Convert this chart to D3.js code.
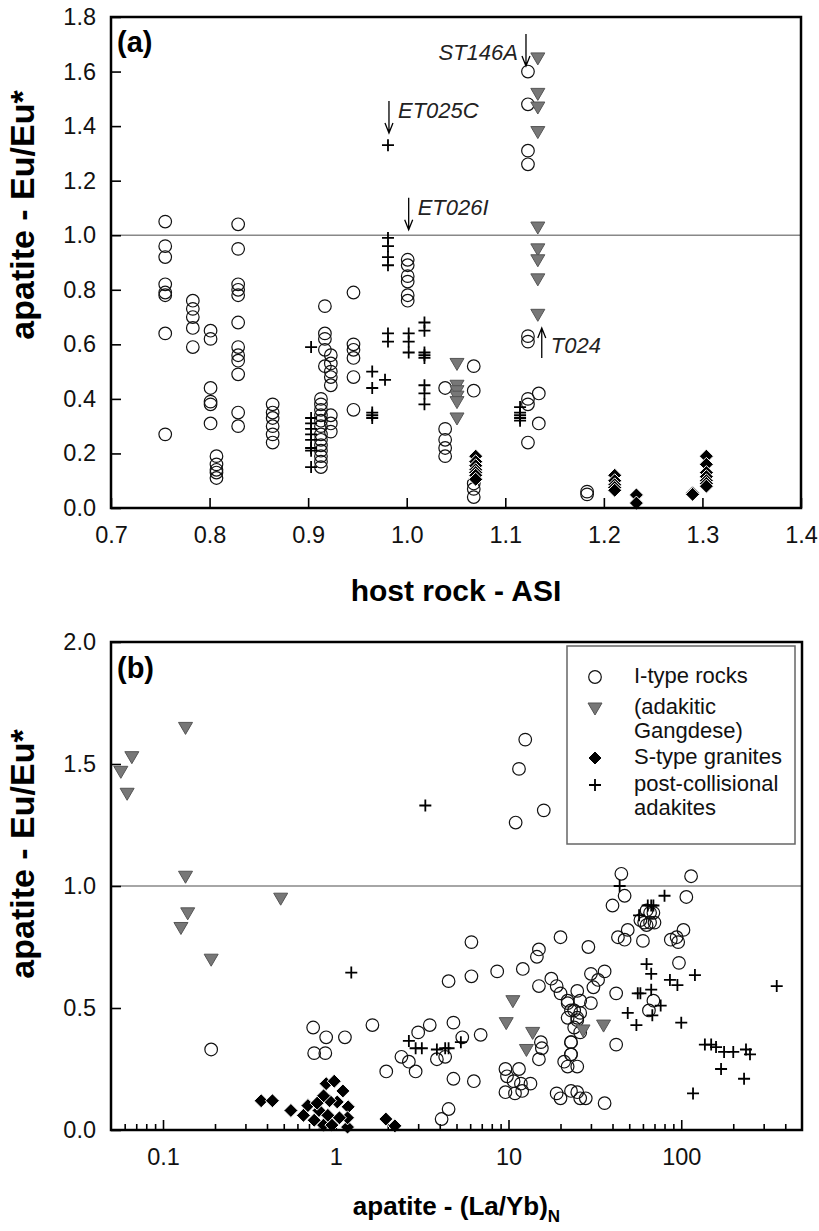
<!DOCTYPE html>
<html lang="en">
<head>
<meta charset="UTF-8">
<title>Apatite Eu/Eu*</title>
<script src="https://cdnjs.cloudflare.com/ajax/libs/d3/7.8.5/d3.min.js"></script>
<style>
    html, body {
        margin: 0;
        background: white;
    }
    text {
        font-family: "Liberation Sans", Arial, sans-serif;
    }
</style>
</head>
<body>
<div id="chart"></div>
<script>
// ---- panel (a): host rock ASI vs apatite Eu/Eu* ----
var aCircles = [
    [0.755, 1.05], [0.755, 0.96], [0.755, 0.92], [0.755, 0.82], [0.755, 0.79], [0.755, 0.78], [0.755, 0.64], [0.755, 0.27],
    [0.783, 0.76], [0.783, 0.73], [0.783, 0.70], [0.783, 0.66], [0.783, 0.59],
    [0.801, 0.65], [0.801, 0.62], [0.801, 0.44], [0.801, 0.39], [0.801, 0.38], [0.801, 0.31],
    [0.807, 0.19], [0.807, 0.16], [0.807, 0.14], [0.807, 0.13], [0.807, 0.11],
    [0.829, 1.04], [0.829, 0.95], [0.829, 0.82], [0.829, 0.80], [0.829, 0.78], [0.829, 0.68], [0.829, 0.59],
    [0.829, 0.56], [0.829, 0.54], [0.829, 0.49], [0.829, 0.35], [0.829, 0.30],
    [0.864, 0.38], [0.864, 0.35], [0.864, 0.33], [0.864, 0.30], [0.864, 0.27], [0.864, 0.24],
    [0.913, 0.40], [0.913, 0.38], [0.913, 0.36], [0.913, 0.34], [0.913, 0.32], [0.913, 0.30], [0.913, 0.27],
    [0.913, 0.25], [0.913, 0.23], [0.913, 0.21], [0.913, 0.19], [0.913, 0.17], [0.913, 0.15],
    [0.917, 0.74], [0.917, 0.64], [0.917, 0.62], [0.917, 0.58], [0.917, 0.52],
    [0.923, 0.56], [0.923, 0.53], [0.923, 0.50], [0.923, 0.48], [0.923, 0.45], [0.923, 0.34], [0.923, 0.31], [0.923, 0.28],
    [0.946, 0.79], [0.946, 0.60], [0.946, 0.58], [0.946, 0.55], [0.946, 0.48], [0.946, 0.36],
    [1.001, 0.91], [1.001, 0.89], [1.001, 0.85], [1.001, 0.83], [1.001, 0.78], [1.001, 0.76],
    [1.039, 0.44], [1.039, 0.29], [1.039, 0.25], [1.039, 0.22], [1.039, 0.19],
    [1.068, 0.52], [1.068, 0.43], [1.068, 0.09], [1.068, 0.07], [1.068, 0.04],
    [1.123, 1.60], [1.123, 1.48], [1.123, 1.31], [1.123, 1.26], [1.123, 0.63], [1.123, 0.61],
    [1.123, 0.40], [1.123, 0.38], [1.123, 0.24],
    [1.134, 0.42], [1.134, 0.31],
    [1.183, 0.06], [1.183, 0.05]
];
var aTriangles = [
    [1.051, 0.53], [1.051, 0.45], [1.051, 0.43], [1.051, 0.41], [1.051, 0.39], [1.051, 0.33],
    [1.133, 1.65], [1.133, 1.52], [1.133, 1.47], [1.133, 1.38], [1.133, 1.03], [1.133, 0.95],
    [1.133, 0.91], [1.133, 0.84], [1.133, 0.71]
];
var aDiamonds = [
    [1.070, 0.19], [1.070, 0.17], [1.070, 0.155], [1.070, 0.14], [1.070, 0.13], [1.070, 0.12], [1.070, 0.105],
    [1.211, 0.12], [1.211, 0.10], [1.211, 0.085], [1.211, 0.075], [1.211, 0.065],
    [1.233, 0.048], [1.233, 0.018],
    [1.290, 0.055], [1.290, 0.05],
    [1.304, 0.19], [1.304, 0.16], [1.304, 0.13], [1.304, 0.115], [1.304, 0.10], [1.304, 0.09], [1.304, 0.08]
];
var aCrosses = [
    [0.903, 0.59], [0.903, 0.33], [0.903, 0.31], [0.903, 0.29], [0.903, 0.27], [0.903, 0.25], [0.903, 0.22], [0.903, 0.21], [0.903, 0.15],
    [0.965, 0.50], [0.965, 0.44], [0.965, 0.35], [0.965, 0.34], [0.965, 0.33],
    [0.978, 0.47],
    [0.981, 1.33], [0.981, 0.99], [0.981, 0.96], [0.981, 0.92], [0.981, 0.89], [0.981, 0.64], [0.981, 0.61],
    [1.002, 0.64], [1.002, 0.61], [1.002, 0.57],
    [1.018, 0.68], [1.018, 0.65], [1.018, 0.57], [1.018, 0.56], [1.018, 0.55], [1.018, 0.45], [1.018, 0.42], [1.018, 0.38],
    [1.115, 0.37], [1.115, 0.35], [1.115, 0.34], [1.115, 0.33], [1.115, 0.32]
];
// sample labels: [name, ASI of arrow, Eu/Eu* of arrow tip, arrow direction, text side]
var aNotes = [
    ['ST146A', 1.121, 1.62, 'down', 'left'],
    ['ET025C', 0.982, 1.375, 'down', 'right'],
    ['ET026I', 1.002, 1.02, 'down', 'right'],
    ['T024', 1.137, 0.66, 'up', 'right']
];
var aXTicks = [0.7, 0.8, 0.9, 1.0, 1.1, 1.2, 1.3, 1.4];
var aYTicks = [0.0, 0.2, 0.4, 0.6, 0.8, 1.0, 1.2, 1.4, 1.6, 1.8];

// ---- panel (b): apatite (La/Yb)N vs apatite Eu/Eu* ----
var bCircles = [
    [0.19, 0.33], [0.74, 0.42], [0.88, 0.38], [1.13, 0.38], [0.75, 0.315], [0.87, 0.315], [1.63, 0.43],
    [1.96, 0.24], [2.4, 0.30], [2.65, 0.28], [2.9, 0.24], [3.0, 0.40], [3.5, 0.43], [3.85, 0.29], [4.3, 0.30],
    [4.5, 0.61], [4.8, 0.44], [4.8, 0.21], [5.4, 0.38], [6.1, 0.77], [6.1, 0.63], [6.3, 0.20], [6.9, 0.39],
    [4.5, 0.086], [4.1, 0.045], [8.6, 0.65], [9.6, 0.25], [9.8, 0.22], [9.6, 0.155], [10.7, 0.20], [10.9, 0.15],
    [11.5, 0.25], [11.8, 0.19], [12, 0.16], [12.1, 0.66], [13.4, 0.19], [14.6, 0.71], [15, 0.74], [15, 0.59],
    [15, 0.29], [15.4, 0.36], [15.6, 0.335], [17.7, 0.62], [19, 0.59], [19, 0.15], [20, 0.13], [20, 0.56],
    [20, 0.79], [22, 0.52], [23, 0.49], [25, 0.46], [22, 0.26], [23, 0.31], [23, 0.36], [24, 0.42],
    [11.5, 1.48], [12.5, 1.60], [16, 1.31], [11, 1.26],
    [45, 1.05], [114, 1.04], [47, 0.96], [40, 0.92], [107, 0.955], [63, 0.90], [66, 0.89], [69, 0.89],
    [61, 0.85], [63, 0.84], [66, 0.85], [70, 0.85], [58, 0.86], [49, 0.82], [43, 0.79], [47, 0.78],
    [60, 0.775], [87, 0.78], [94, 0.79], [103, 0.82], [96, 0.77], [29, 0.75], [97, 0.685], [30, 0.64],
    [33, 0.615], [36, 0.65], [31, 0.585], [42, 0.56], [25, 0.57], [22, 0.53], [26, 0.53], [30, 0.52],
    [24, 0.49], [26, 0.48], [22, 0.46], [25, 0.45], [26, 0.40], [23, 0.36], [23, 0.31], [21, 0.28],
    [25, 0.26], [69, 0.53], [65, 0.49], [42, 0.35], [23, 0.16], [25, 0.155], [26, 0.13], [36, 0.11], [28, 0.13]
];
var bTriangles = [
    [0.057, 1.47], [0.066, 1.53], [0.062, 1.38], [0.135, 1.65], [0.135, 1.04], [0.48, 0.95], [0.139, 0.89],
    [0.127, 0.83], [0.19, 0.70], [10.6, 0.53], [9.7, 0.44], [13.8, 0.40], [12.7, 0.33], [27, 0.41], [35.5, 0.43]
];
var bDiamonds = [
    [0.37, 0.12], [0.43, 0.12], [1.95, 0.045], [2.2, 0.017],
    [0.55, 0.08], [0.65, 0.06], [0.69, 0.10], [0.80, 0.08], [0.85, 0.02], [0.88, 0.19], [0.98, 0.20],
    [1.02, 0.115], [0.95, 0.02], [1.1, 0.16], [1.18, 0.095], [1.17, 0.012], [1.17, 0.05], [0.75, 0.04],
    [0.9, 0.06], [0.92, 0.12], [0.85, 0.14], [1.05, 0.05], [0.78, 0.11]
];
var bCrosses = [
    [3.3, 1.33], [1.23, 0.645],
    [2.65, 0.365], [2.9, 0.335], [3.15, 0.335], [3.85, 0.33], [4.3, 0.335], [4.5, 0.335], [5.3, 0.36],
    [44, 1.0], [80, 0.96], [64, 0.92], [67, 0.92], [69, 0.92], [57, 0.88], [63, 0.68], [67, 0.64],
    [86, 0.615], [95, 0.594], [120, 0.635], [357, 0.59], [56, 0.56], [58, 0.56], [67, 0.575], [76, 0.51],
    [49, 0.48], [55, 0.43], [68, 0.47], [100, 0.44],
    [137, 0.35], [149, 0.35], [159, 0.34], [177, 0.32], [200, 0.32], [237, 0.33], [250, 0.31],
    [170, 0.25], [231, 0.21], [117, 0.15]
];
var bXMajor = [0.1, 1, 10, 100];
var bXMinor = [0.06, 0.07, 0.08, 0.09, 0.2, 0.3, 0.4, 0.5, 0.6, 0.7, 0.8, 0.9,
    2, 3, 4, 5, 6, 7, 8, 9, 20, 30, 40, 50, 60, 70, 80, 90, 200, 300, 400];
var bYTicks = [0.0, 0.5, 1.0, 1.5, 2.0];
var legendRows = [
    ['circle', ['I-type rocks']],
    ['triangle', ['(adakitic', 'Gangdese)']],
    ['diamond', ['S-type granites']],
    ['cross', ['post-collisional', 'adakites']]
];

var width = 819;
var height = 1231;

var svg = d3.select('#chart')
    .append('svg')
        .attr('width', width)
        .attr('height', height);

var panelA = {left: 111, right: 801, top: 17, bottom: 508};
var panelB = {left: 111, right: 802, top: 642, bottom: 1130};

var xA = d3.scaleLinear().domain([0.7, 1.4]).range([panelA.left, panelA.right]);
var yA = d3.scaleLinear().domain([0, 1.8]).range([panelA.bottom, panelA.top]);
var xB = d3.scaleLog().domain([0.05, 500]).range([panelB.left, panelB.right]);
var yB = d3.scaleLinear().domain([0, 2]).range([panelB.bottom, panelB.top]);

// marker paths
var triPath = 'M-7,-5L7,-5L0,7Z';
var diaPath = 'M0,-7L7,0L0,7L-7,0Z';
var crossPath = 'M-6,0L6,0M0,-6L0,6';

function drawMarks(g, data, x, y, kind) {
    var sel = g.selectAll('.m-' + kind)
        .data(data)
        .enter();
    if (kind === 'circle') {
        sel.append('circle')
            .attr('class', 'm-circle')
            .attr('cx', function(d){ return x(d[0]); })
            .attr('cy', function(d){ return y(d[1]); })
            .attr('r', 6.3)
            .attr('fill', 'none')
            .attr('stroke', '#111')
            .attr('stroke-width', 1.2);
    } else {
        sel.append('path')
            .attr('class', 'm-' + kind)
            .attr('transform', function(d){ return 'translate(' + x(d[0]) + ',' + y(d[1]) + ')'; })
            .attr('d', kind === 'triangle' ? triPath : kind === 'diamond' ? diaPath : crossPath)
            .attr('fill', kind === 'triangle' ? '#777' : kind === 'diamond' ? '#000' : 'none')
            .attr('stroke', kind === 'triangle' ? '#555' : kind === 'diamond' ? '#fff' : '#000')
            .attr('stroke-width', kind === 'cross' ? 1.8 : 1);
    }
}

function frame(p) {
    svg.append('rect')
        .attr('x', p.left)
        .attr('y', p.top)
        .attr('width', p.right - p.left)
        .attr('height', p.bottom - p.top)
        .attr('fill', 'none')
        .attr('stroke', '#000')
        .attr('stroke-width', 2.5);
}

// ===== panel (a) =====
var gA = svg.append('g');

gA.append('line')
    .attr('x1', panelA.left).attr('x2', panelA.right)
    .attr('y1', yA(1)).attr('y2', yA(1))
    .attr('stroke', '#888')
    .attr('stroke-width', 1.6);

var xAxisA = d3.axisBottom(xA)
    .tickValues(aXTicks)
    .tickSizeInner(-10)
    .tickSizeOuter(0)
    .tickPadding(18)
    .tickFormat(d3.format('.1f'));

var yAxisA = d3.axisLeft(yA)
    .tickValues(aYTicks)
    .tickSizeInner(-10)
    .tickSizeOuter(0)
    .tickPadding(15)
    .tickFormat(d3.format('.1f'));

gA.append('g')
    .attr('class', 'axis')
    .attr('transform', 'translate(0,' + panelA.bottom + ')')
    .call(xAxisA);

gA.append('g')
    .attr('class', 'axis')
    .attr('transform', 'translate(' + panelA.left + ',0)')
    .call(yAxisA);

drawMarks(gA, aCircles, xA, yA, 'circle');
drawMarks(gA, aCrosses, xA, yA, 'cross');
drawMarks(gA, aTriangles, xA, yA, 'triangle');
drawMarks(gA, aDiamonds, xA, yA, 'diamond');

// sample annotations with arrows
aNotes.forEach(function(n){
    var ax = xA(n[1]);
    var tip = yA(n[2]);
    var dir = n[3] === 'down' ? -1 : 1;     // tail offset direction
    var len = n[3] === 'down' ? 32 : 30;
    var tail = tip + dir * len;
    gA.append('path')
        .attr('d', 'M' + ax + ',' + tail + 'L' + ax + ',' + tip +
            'M' + (ax - 4) + ',' + (tip + dir * 10) + 'L' + ax + ',' + tip + 'L' + (ax + 4) + ',' + (tip + dir * 10))
        .attr('fill', 'none')
        .attr('stroke', '#000')
        .attr('stroke-width', 1.3);
    var ty = n[3] === 'down' ? (tail + tip) / 2 + 1 : (tail + tip) / 2 + 10;
    gA.append('text')
        .attr('x', n[4] === 'left' ? ax - 8 : ax + 9)
        .attr('y', n[3] === 'down' && n[4] === 'left' ? tip - 6 : ty)
        .attr('text-anchor', n[4] === 'left' ? 'end' : 'start')
        .attr('font-style', 'italic')
        .attr('font-size', 22)
        .attr('fill', '#222')
        .text(n[0]);
});

frame(panelA);

gA.append('text')
    .attr('x', panelA.left + 6)
    .attr('y', panelA.top + 35)
    .attr('font-size', 29)
    .attr('font-weight', 'bold')
    .text('(a)');

svg.append('text')
    .attr('transform', 'translate(34,215) rotate(-90)')
    .attr('text-anchor', 'middle')
    .attr('font-size', 34)
    .attr('font-weight', 'bold')
    .text('apatite - Eu/Eu*');

svg.append('text')
    .attr('x', (panelA.left + panelA.right) / 2)
    .attr('y', 601)
    .attr('text-anchor', 'middle')
    .attr('font-size', 30)
    .attr('font-weight', 'bold')
    .text('host rock - ASI');

// ===== panel (b) =====
var gB = svg.append('g');

gB.append('line')
    .attr('x1', panelB.left).attr('x2', panelB.right)
    .attr('y1', yB(1)).attr('y2', yB(1))
    .attr('stroke', '#888')
    .attr('stroke-width', 1.6);

var xAxisB = d3.axisBottom(xB)
    .tickValues(bXMajor)
    .tickSizeInner(-10)
    .tickSizeOuter(0)
    .tickPadding(18)
    .tickFormat(d3.format('~g'));

var xAxisBMinor = d3.axisBottom(xB)
    .tickValues(bXMinor)
    .tickSizeInner(-6)
    .tickSizeOuter(0)
    .tickFormat('');

var yAxisB = d3.axisLeft(yB)
    .tickValues(bYTicks)
    .tickSizeInner(-10)
    .tickSizeOuter(0)
    .tickPadding(15)
    .tickFormat(d3.format('.1f'));

gB.append('g')
    .attr('class', 'axis')
    .attr('transform', 'translate(0,' + panelB.bottom + ')')
    .call(xAxisB);

gB.append('g')
    .attr('class', 'axis')
    .attr('transform', 'translate(0,' + panelB.bottom + ')')
    .call(xAxisBMinor);

gB.append('g')
    .attr('class', 'axis')
    .attr('transform', 'translate(' + panelB.left + ',0)')
    .call(yAxisB);

drawMarks(gB, bCircles, xB, yB, 'circle');
drawMarks(gB, bCrosses, xB, yB, 'cross');
drawMarks(gB, bTriangles, xB, yB, 'triangle');
drawMarks(gB, bDiamonds, xB, yB, 'diamond');

// legend
var lg = gB.append('g').attr('transform', 'translate(567,646)');
lg.append('rect')
    .attr('width', 228)
    .attr('height', 198)
    .attr('fill', 'white')
    .attr('stroke', '#666')
    .attr('stroke-width', 1.5);

var rowY = [31, 62, 112, 139];
legendRows.forEach(function(r, i){
    var cy = rowY[i];
    var sym = r[0];
    if (sym === 'circle') {
        lg.append('circle').attr('cx', 28).attr('cy', cy).attr('r', 6.3)
            .attr('fill', 'none').attr('stroke', '#111').attr('stroke-width', 1.2);
    } else {
        lg.append('path')
            .attr('transform', 'translate(28,' + cy + ')')
            .attr('d', sym === 'triangle' ? triPath : sym === 'diamond' ? diaPath : crossPath)
            .attr('fill', sym === 'triangle' ? '#777' : sym === 'diamond' ? '#000' : 'none')
            .attr('stroke', sym === 'triangle' ? '#555' : sym === 'diamond' ? '#fff' : '#000')
            .attr('stroke-width', sym === 'cross' ? 1.8 : 1);
    }
    r[1].forEach(function(line, j){
        lg.append('text')
            .attr('x', 67)
            .attr('y', cy + 6 + j * 24)
            .attr('font-size', 22)
            .attr('fill', '#111')
            .text(line);
    });
});

frame(panelB);

gB.append('text')
    .attr('x', panelB.left + 6)
    .attr('y', panelB.top + 36)
    .attr('font-size', 29)
    .attr('font-weight', 'bold')
    .text('(b)');

svg.append('text')
    .attr('transform', 'translate(34,854) rotate(-90)')
    .attr('text-anchor', 'middle')
    .attr('font-size', 34)
    .attr('font-weight', 'bold')
    .text('apatite - Eu/Eu*');

var bTitle = svg.append('text')
    .attr('x', (panelB.left + panelB.right) / 2)
    .attr('y', 1215)
    .attr('text-anchor', 'middle')
    .attr('font-size', 26)
    .attr('font-weight', 'bold');
bTitle.append('tspan').text('apatite - (La/Yb)');
bTitle.append('tspan').attr('font-size', 17).attr('dy', 7).text('N');

// axis styling
svg.selectAll('.axis path.domain').remove();
svg.selectAll('.axis line').attr('stroke', '#000').attr('stroke-width', 1.6);
svg.selectAll('.axis text')
    .attr('font-size', 23.5)
    .attr('fill', '#111')
    .style('font-family', '"Liberation Sans", Arial, sans-serif');
</script>
</body>
</html>
